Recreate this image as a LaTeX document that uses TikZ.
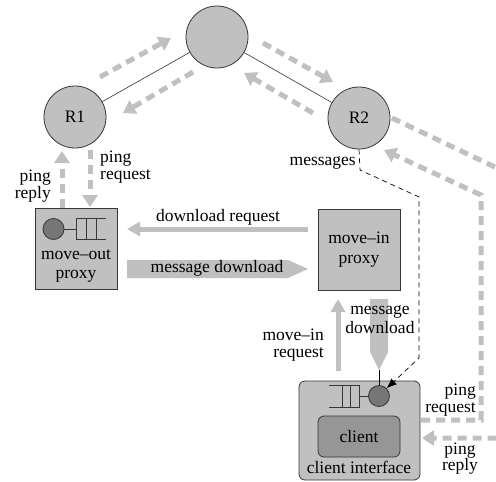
\documentclass[tikz,border=0pt]{standalone}
\usepackage{fontspec}
\setmainfont{Liberation Serif}
\usetikzlibrary{arrows.meta}
\definecolor{lg}{RGB}{192,192,192}
\definecolor{dg}{RGB}{118,118,118}
\definecolor{mg}{RGB}{150,150,150}
\definecolor{edgec}{RGB}{55,55,55}
\begin{document}
\begin{tikzpicture}[x=1pt,y=-1pt,
  every node/.style={font=\fontsize{17.5}{18}\selectfont, inner sep=0pt},
  router/.style={circle, fill=lg, draw=edgec, line width=0.8pt, minimum size=62pt},
  proxybox/.style={rectangle, fill=lg, draw=edgec, line width=0.8pt, minimum width=82pt, minimum height=81pt},
  pingarr/.style={draw=lg, line width=5pt, dash pattern=on 9pt off 6pt, -{Triangle[width=15pt,length=12pt]}},
  thinarr/.style={draw=lg, line width=5pt, -{Triangle[width=14pt,length=13pt]}},
  server/.style={circle, fill=dg, draw=edgec, line width=0.8pt, minimum size=21pt},
  queue/.style={draw=edgec, line width=0.8pt},
  tight/.style={font=\fontsize{17.5}{16.2}\selectfont},
  link/.style={draw=black!80, line width=0.6pt}
]
\clip (0,0) rectangle (496,482);
% routers
\node[router] (top) at (217,37) {};
\node[router] (r1) at (75,117) {R1};
\node[router] (r2) at (359,118) {R2};
\draw[link] (top) -- (r1);
\draw[link] (top) -- (r2);
% dashed arrows along links
\coordinate (a1s) at (100,77);  \coordinate (a1e) at (171,38);
\coordinate (a2s) at (193,72);  \coordinate (a2e) at (123,113);
\coordinate (a3s) at (263,43);  \coordinate (a3e) at (333,82);
\coordinate (a4s) at (313,113); \coordinate (a4e) at (244,73);
\draw[pingarr] (a1s) -- (a1e);
\draw[pingarr] (a2s) -- (a2e);
\draw[pingarr] (a3s) -- (a3e);
\draw[pingarr] (a4s) -- (a4e);
% move-out proxy
\node[proxybox] (mout) at (76,249) {};
\node[server] (s1) at (53.5,229) {};
\coordinate (q1) at (76,229);
\draw[queue] (s1) -- (q1);
\draw[queue] (106,218) -- (76,218) -- (76,239) -- (106,239);
\draw[queue] (86,218) -- (86,239) (96,218) -- (96,239);
\node[align=center, font=\fontsize{17.5}{19}\selectfont] (moutl) at (76,266) {move--out\\proxy};
% move-in proxy
\node[proxybox, align=center, font=\fontsize{17.5}{20}\selectfont] (min) at (359,249.5) {move--in\\proxy};
% client interface
\node[rounded corners=6pt, fill=lg, draw=edgec, line width=0.8pt, minimum width=121pt, minimum height=99pt] (cli) at (359.5,430.5) {};
\node[rounded corners=6pt, fill=mg, draw=edgec, line width=0.8pt, minimum width=82pt, minimum height=41pt] (clin) at (359,436.5) {client};
\node (clil) at (359,467) {client interface};
\node[server] (s2) at (379,396) {};
\coordinate (q2) at (359,396);
\draw[queue] (s2) -- (q2);
\draw[queue] (329,385) -- (359,385) -- (359,407) -- (329,407);
\draw[queue] (342,385) -- (342,407) (350,385) -- (350,407);
% ping left
\coordinate (p1s) at (62,208); \coordinate (p1e) at (62,151);
\coordinate (p2s) at (90,150); \coordinate (p2e) at (90,207);
\draw[pingarr] (p1s) -- (p1e);
\draw[pingarr] (p2s) -- (p2e);
\node[tight, align=left, anchor=west] (lpq) at (100,167) {ping\\request};
\node[tight, align=right, anchor=east] (lpr) at (51,186) {ping\\reply};
% download request
\coordinate (drs) at (308,229); \coordinate (dre) at (127,229);
\draw[thinarr] (drs) -- (dre);
\node (drl) at (218,217) {download request};
% message download (horizontal)
\fill[lg] (127,260) -- (288,260) -- (308,269) -- (288,278) -- (127,278) -- cycle;
\node (mdl) at (217,268) {message download};
% move-in request
\coordinate (mrs) at (338,371); \coordinate (mre) at (338,299);
\draw[thinarr] (mrs) -- (mre);
\node[align=right, anchor=east, font=\fontsize{17.5}{16.2}\selectfont] (mrl) at (324,345) {move--in\\request};
% message download (vertical)
\fill[lg] (370,299) -- (388,299) -- (388,352) -- (379,370) -- (370,352) -- cycle;
\coordinate (mdt) at (379,370);
\draw[line width=0.7pt] (mdt) -- (s2.north);
\node[align=center, font=\fontsize{17.5}{19}\selectfont] (mdv) at (380,319.5) {message\\download};
% messages dashed
\node[anchor=east] (msg) at (356,163) {messages};
\draw[line width=0.7pt, dash pattern=on 5pt off 4pt, -{Latex[length=10pt,width=8pt]}]
  (r2.south) -- (360,170) -- (419,197) -- (419,358) -- (s2.north east);
% ping request / reply on the right
\draw[pingarr] (421,420) -- (481,420) -- (481,195) -- (384,150);
\draw[pingarr] (392,118) -- (499,169) -- (499,438) -- (422,438);
\node[tight, align=right, anchor=east] (rpq) at (476,400) {ping\\request};
\node[tight, align=center] (rpr) at (460,458.5) {ping\\reply};
\end{tikzpicture}
\end{document}
